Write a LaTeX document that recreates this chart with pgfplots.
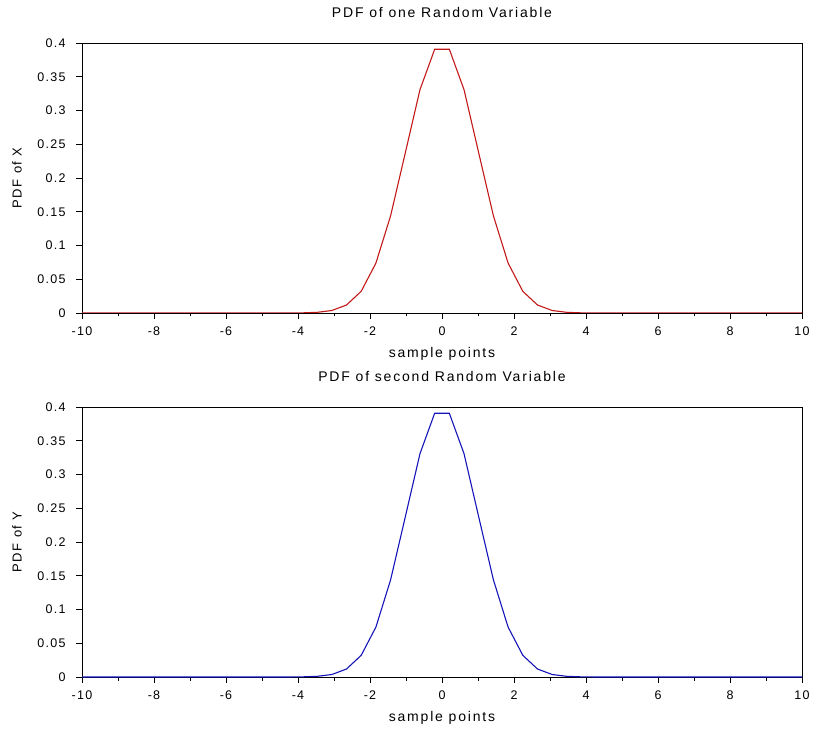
\documentclass[border=0pt]{standalone}
\usepackage{fontspec}
\setmainfont{Liberation Sans}
\newfontfamily\labfont[LetterSpace=13]{Liberation Sans}
\newfontfamily\tickfont[LetterSpace=10]{Liberation Sans}
\usepackage{pgfplots}
\pgfplotsset{compat=1.18}
\definecolor{cred}{RGB}{195,25,25}
\definecolor{cblue}{RGB}{20,20,185}
\pgfplotstableread{
x y
-10 0
-9.5918 0
-9.1837 0
-8.7755 0
-8.3673 0
-7.9592 0
-7.5510 0
-7.1429 0
-6.7347 0
-6.3265 0
-5.9184 0
-5.5102 0
-5.1020 0.000001
-4.6939 0.0000066
-4.2857 0.000041
-3.8776 0.000217
-3.4694 0.000971
-3.0612 0.003683
-2.6531 0.01182
-2.2449 0.03211
-1.8367 0.07385
-1.4286 0.14379
-1.0204 0.23704
-0.6122 0.33076
-0.2041 0.39072
0.2041 0.39072
0.6122 0.33076
1.0204 0.23704
1.4286 0.14379
1.8367 0.07385
2.2449 0.03211
2.6531 0.01182
3.0612 0.003683
3.4694 0.000971
3.8776 0.000217
4.2857 0.000041
4.6939 0.0000066
5.1020 0.000001
5.5102 0
5.9184 0
6.3265 0
6.7347 0
7.1429 0
7.5510 0
7.9592 0
8.3673 0
8.7755 0
9.1837 0
9.5918 0
10 0
}\pdfdata
\pgfplotsset{
  pdfax/.style={
    scale only axis, width=720pt, height=270pt,
    xmin=-10, xmax=10, ymin=0, ymax=0.4,
    xtick={-10,-8,...,10},
    xticklabels={-10,-8,-6,-4,-2,0,2,4,6,8,10},
    ytick={0,0.05,0.1,0.15,0.2,0.25,0.3,0.35,0.4},
    yticklabels={0,0.05,0.1,0.15,0.2,0.25,0.3,0.35,0.4},
    minor x tick num=1,
    tick align=outside, xtick pos=left, ytick pos=left,
    major tick length=6pt, minor tick length=3.5pt,
    every tick/.style={black, line width=0.8pt},
    axis line style={line width=0.9pt},
    tick label style={font=\fontsize{12.5}{14}\selectfont\tickfont},
    xticklabel style={yshift=-4pt},
    yticklabel style={xshift=-7pt},
    xlabel style={font=\fontsize{14}{16}\selectfont\labfont, at={(axis description cs:0.5,-0.152)}, anchor=center, yshift=0pt},
    ylabel style={font=\fontsize{13}{15}\selectfont\labfont, at={(axis description cs:-0.0903,0.5)}, anchor=center, rotate=0},
    title style={font=\fontsize{14}{16}\selectfont\labfont, at={(axis description cs:0.5,1.09)}, anchor=center, yshift=0pt},
    xlabel={sample points},
  }
}
\begin{document}
\begin{tikzpicture}
\begin{axis}[pdfax, at={(82pt,415pt)}, anchor=south west,
  title={PDF of one Random Variable}, ylabel={PDF of X}]
\addplot[cred, line width=1.1pt] table[x=x,y=y] {\pdfdata};
\end{axis}
\begin{axis}[pdfax, at={(82pt,51pt)}, anchor=south west,
  title={PDF of second Random Variable}, ylabel={PDF of Y}]
\addplot[cblue, line width=1.1pt] table[x=x,y=y] {\pdfdata};
\end{axis}
\pgfresetboundingbox
\path[use as bounding box] (0,0) rectangle (813pt,728pt);
\end{tikzpicture}
\end{document}
